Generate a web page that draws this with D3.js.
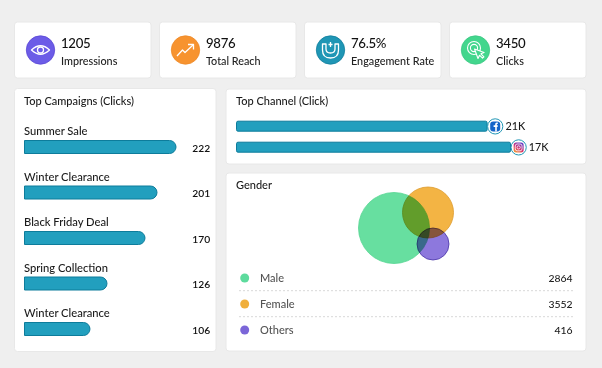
<!DOCTYPE html>
<html><head><meta charset="utf-8">
<script src="https://cdn.jsdelivr.net/npm/d3@7"></script>
<style>html,body{margin:0;padding:0;background:#efefef}svg{display:block}text{font-family:Lato,sans-serif}</style>
</head><body><svg id="c" width="602" height="368"></svg>
<script>
const kpiValues=["1205","9876","76.5%","3450"];
const kpiLabels=["Impressions","Total Reach","Engagement Rate","Clicks"];
const kpiColors=["#6c5ce7","#f7932f","#1f96b5","#43d68d"];
const kpiEdges=["#5a48d6","#ee8a2a","#127f9d","#3cc884"];
const campaignNames=["Summer Sale","Winter Clearance","Black Friday Deal","Spring Collection","Winter Clearance"];
const campaignClicks=[222,201,170,126,106];
const campaignBarShare=[100,87.5,79.6,54.6,43.4];
const channelNames=["Facebook","Instagram"];
const channelLabels=["21K","17K"];
const channelBarShare=[71.6,78.3];
const genderNames=["Male","Female","Others"];
const genderValues=[2864,3552,416];
const genderColors=["#67dfa0","#f3b444","#8d78dd"];
const genderEdges=["#55d692","#dd9a2c","#4a35a8"];
const genderDots=["#5ddb9d","#f0af3c","#7b66d8"];
const vennX=[0,34,39];
const vennY=[0,-15.5,16];
const vennR=[35.5,25.5,16];

const svg=d3.select("#c");
function card(x,y,w,h){svg.append("rect").attr("x",x).attr("y",y).attr("width",w).attr("height",h).attr("rx",3).attr("fill","#fff").attr("stroke","#e8e8e8");}
function txt(x,y,s,size,col,anchor,w){return svg.append("text").attr("x",x).attr("y",y).text(s).attr("font-size",size).attr("fill",col||"#1a1a1a").attr("text-anchor",anchor||"start").attr("font-weight",w||500);}

// KPI row
const kpiX=d3.scaleLinear().domain([0,1]).range([14.5,159.5]);
const iconDraw=[
 g=>{g.append("path").attr("d","M-9,0 Q0,-8.5 9,0 Q0,8.5 -9,0Z");g.append("circle").attr("r",3);},
 g=>{g.append("path").attr("d","M-8.5,6 L-3,0 L-.5,2.5 L7.5,-5");g.append("path").attr("d","M2.5,-5.5 L8,-5.5 L8,-.5");},
 g=>{g.append("path").attr("d","M-8,-6 L-8,0 Q-8,8 0,8 Q8,8 8,0 L8,-6 L4.5,-6 L4.5,-1 Q4.5,3 0,3 Q-4.5,3 -4.5,-1 L-4.5,-6Z");g.append("path").attr("d","M0,-8 L0,-3 M-2,-5.5 L2,-5.5");},
 g=>{g.append("circle").attr("cx",-1.5).attr("cy",-2).attr("r",6.5).attr("stroke-width",1.1);g.append("circle").attr("cx",-1.5).attr("cy",-2).attr("r",3.6).attr("stroke-width",1.1);g.append("path").attr("d","M-1,-1 L2.5,8.5 L4,5.2 L7,8.2 L8.4,6.8 L5.4,3.8 L8.6,2.4Z").attr("fill","#43d68d").attr("stroke-width",1.1);}
];
kpiValues.forEach((v,i)=>{
  const cx=kpiX(i);
  card(cx,22,136.5,56);
  svg.append("circle").attr("cx",cx+26).attr("cy",50).attr("r",14.2).attr("fill",kpiColors[i]).attr("stroke",kpiEdges[i]).attr("stroke-width",.8);
  const g=svg.append("g").attr("transform",`translate(${cx+26},50)`).attr("fill","none").attr("stroke","#fff").attr("stroke-width",1.3).attr("stroke-linejoin","round");
  iconDraw[i](g);
  txt(cx+46.5,47.5,v,13.2,"#111").attr("letter-spacing",-.3);
  txt(cx+46.5,64.5,kpiLabels[i],10.8,"#222");
});

// Campaigns
card(14.5,88.5,201.5,263);
txt(24,105,"Top Campaigns (Clicks)",11,"#1a1a1a");
const campX=d3.scaleLinear().domain([0,100]).range([0,152]);
const campY=d3.scaleBand().domain(d3.range(5)).range([122.5,350]).padding(0);
const line=(x,y,w,h,r)=>`M${x},${y}H${x+w-r}A${r},${r} 0 0 1 ${x+w},${y+r}V${y+h-r}A${r},${r} 0 0 1 ${x+w-r},${y+h}H${x}Z`;
campaignNames.forEach((n,i)=>{
  const y=campY(i);
  txt(24,y+12.8,n,11.2,"#1a1a1a");
  svg.append("path").attr("d",line(24.5,y+18,campX(campaignBarShare[i])-.5,13,6.5)).attr("fill","#229fbe").attr("stroke","#0d7c9b").attr("stroke-width",1);
  txt(192.3,y+29,campaignClicks[i],10.3,"#111",null,600);
});

// Channels
card(226,89,360,75);
txt(236,105,"Top Channel (Click)",11,"#1a1a1a");
const chanX=d3.scaleLinear().domain([0,100]).range([0,350]);
const chanY=d3.scaleBand().domain(channelNames).range([116,158]);
channelNames.forEach((n,i)=>{
  const y=chanY(n)+5.2, w=chanX(channelBarShare[i]);
  svg.append("rect").attr("x",236.5).attr("y",y).attr("width",w).attr("height",10).attr("rx",1.5).attr("fill","#229fbe").attr("stroke","#0d7c9b");
  const cx=236+w+8.6, cy=y+5.2;
  svg.append("circle").attr("cx",cx).attr("cy",cy).attr("r",7.6).attr("fill","#fff").attr("stroke","#1f96b5");
  if(i===0){
    svg.append("rect").attr("x",cx-5).attr("y",cy-5).attr("width",10).attr("height",10).attr("rx",3).attr("fill","#1565c9");
    svg.append("path").attr("d",`M${cx+.0},${cy+5}V${cy+.5}H${cx-1.6}V${cy-1.2}H${cx}V${cy-2.4}Q${cx},${cy-4} ${cx+1.6},${cy-4}H${cx+2.6}V${cy-2.5}H${cx+2}Q${cx+1.6},${cy-2.5} ${cx+1.6},${cy-2}V${cy-1.2}H${cx+2.6}L${cx+2.4},${cy+.5}H${cx+1.6}V${cy+5}Z`).attr("fill","#fff");
  } else {
    const id="ig";
    const gr=svg.append("defs").append("linearGradient").attr("id",id).attr("x1",0).attr("y1",1).attr("x2",.6).attr("y2",0);
    gr.append("stop").attr("offset",0).attr("stop-color","#f9b233");
    gr.append("stop").attr("offset",.5).attr("stop-color","#d6306f");
    gr.append("stop").attr("offset",1).attr("stop-color","#6a3fc4");
    svg.append("rect").attr("x",cx-5).attr("y",cy-5).attr("width",10).attr("height",10).attr("rx",2.5).attr("fill",`url(#${id})`);
    svg.append("rect").attr("x",cx-3.4).attr("y",cy-3.4).attr("width",6.8).attr("height",6.8).attr("rx",2).attr("fill","none").attr("stroke","#fff").attr("stroke-width",.8);
    svg.append("circle").attr("cx",cx).attr("cy",cy).attr("r",1.6).attr("fill","none").attr("stroke","#fff").attr("stroke-width",.8);
  }
  txt(cx+10.2,cy+4,channelLabels[i],10.8,"#1a1a1a");
});

// Gender
card(226,173,360,178);
txt(236,189,"Gender",11,"#1a1a1a");
const vx=d3.scaleLinear().domain([0,1]).range([394,395]);
const vy=d3.scaleLinear().domain([0,1]).range([228,229]);
genderNames.forEach((n,i)=>{
  svg.append("circle").attr("cx",vx(vennX[i])).attr("cy",vy(vennY[i])).attr("r",vennR[i])
    .attr("fill",genderColors[i]).attr("stroke",genderEdges[i]).attr("stroke-width",.8)
    .style("mix-blend-mode","multiply");
});
const legY=d3.scalePoint().domain(genderNames).range([278,330]);
genderNames.forEach((n,i)=>{
  const y=legY(n);
  svg.append("circle").attr("cx",244.7).attr("cy",y).attr("r",4.5).attr("fill",genderDots[i]);
  txt(260,y+4,n,11,"#555");
  txt(572.5,y+4,genderValues[i],10.4,"#1a1a1a","end");
  if(i<2) svg.append("line").attr("x1",239).attr("x2",573).attr("y1",y+12.7).attr("y2",y+12.7).attr("stroke","#d8d8d8").attr("stroke-dasharray","2 2");
});
</script></body></html>
